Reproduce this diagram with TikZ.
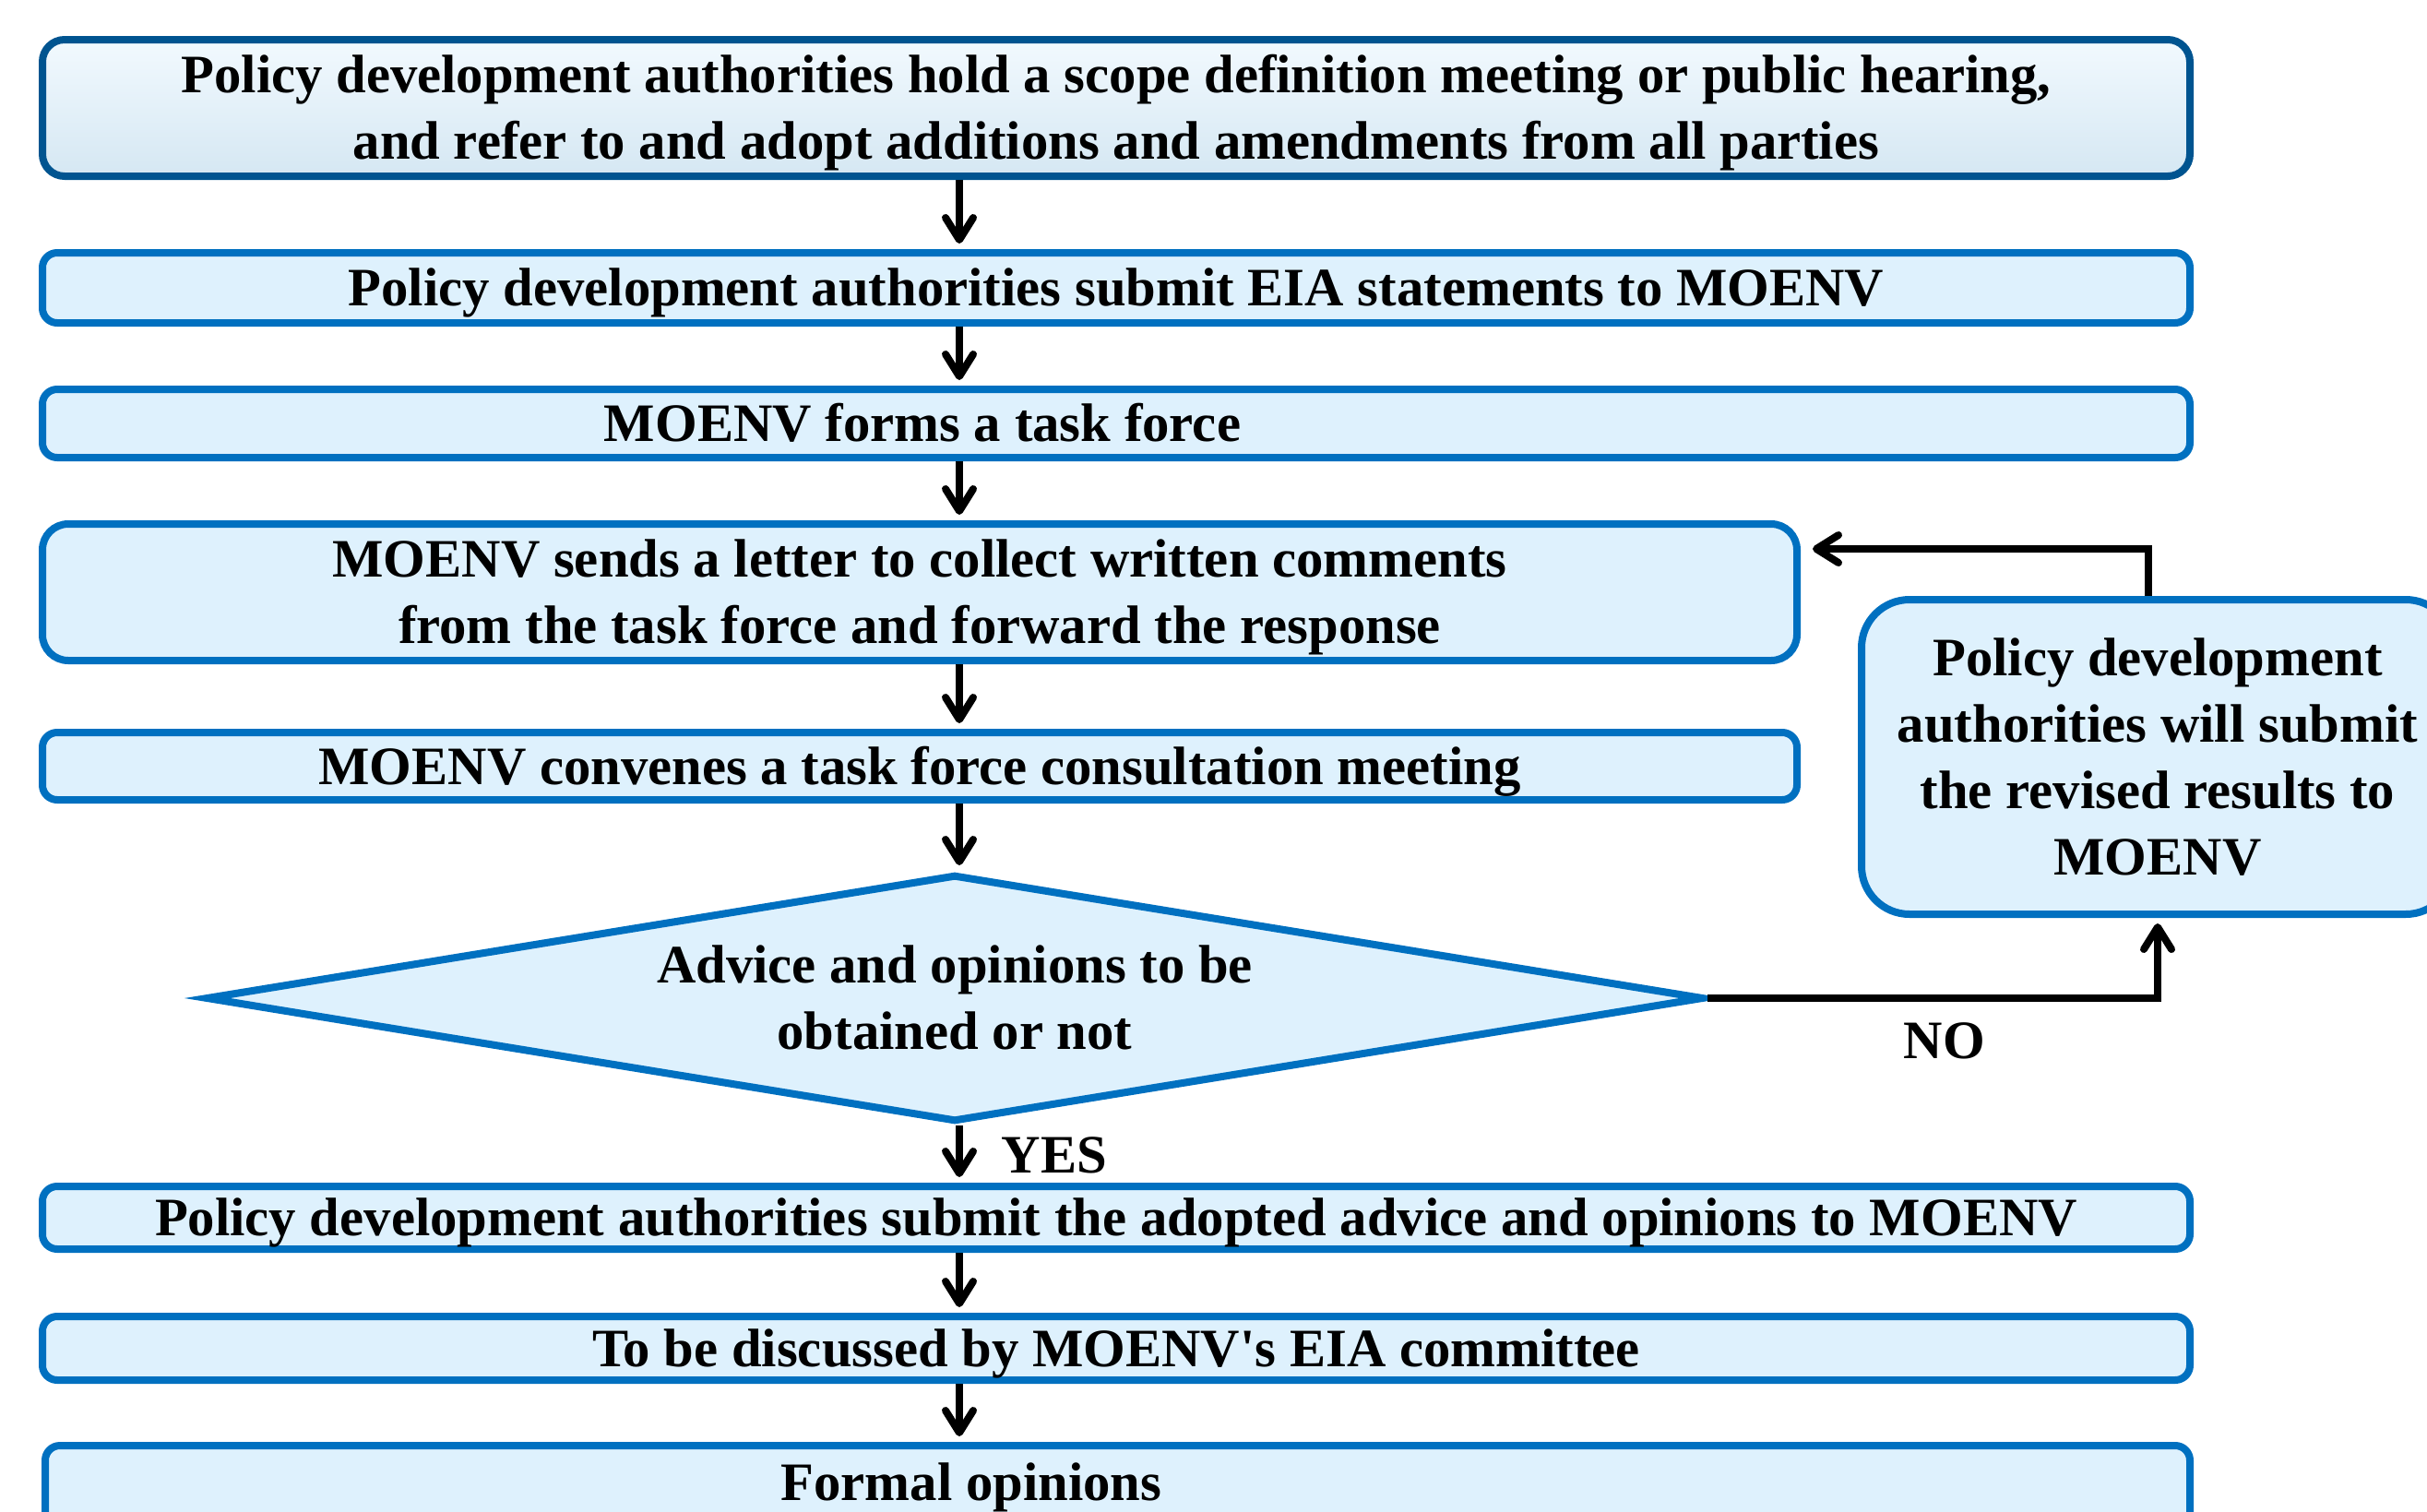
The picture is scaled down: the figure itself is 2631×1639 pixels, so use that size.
\documentclass[tikz,border=0pt]{standalone}
\usepackage{tikz}
\usepackage{xcolor}
\usepackage{fontspec}
\setmainfont{Liberation Serif}
\usetikzlibrary{shapes.geometric,arrows.meta,shadows}
\definecolor{boxfill}{RGB}{222,241,253}
\definecolor{boxline}{RGB}{0,112,192}
\newcommand{\linebox}{\rule[-0.216em]{0pt}{1.107em}}

\begin{document}
\begin{tikzpicture}[x=0.5pt,y=-0.5pt,
  stage/.style={draw=boxline,fill=boxfill,line width=4pt,rounded corners=8pt,inner sep=0pt,align=center,font=\bfseries\fontsize{29.35}{36}\selectfont,
    execute at begin node=\linebox,execute at end node=\linebox},
  flow/.style={line width=4pt,shorten >=3pt,-{Straight Barb[length=12pt,width=15pt,round]}},
  tag/.style={inner sep=0pt,align=center,font=\bfseries\fontsize{29.35}{36}\selectfont,
    execute at begin node=\linebox,execute at end node=\linebox}]
\useasboundingbox (0,0) rectangle (2631,1639);
\coordinate (ax) at (1040,0);

%Shape: Rounded Rectangle [scope meeting]
\node[stage,draw=boxline!75!black,top color=boxfill!40!white,middle color=boxfill,bottom color=boxfill!96!black,rounded corners=12pt,drop shadow={shadow xshift=1.5pt,shadow yshift=-1.5pt,opacity=0.3},minimum width=1164pt,minimum height=74pt] (scope) at (1210,117) {\linebox Policy development authorities hold a scope definition meeting or public hearing,\\and refer to and adopt additions and amendments from all parties};
%Shape: Rounded Rectangle [statements]
\node[stage,minimum width=1164pt,minimum height=38pt] (submit) at (1210,312) {Policy development authorities submit EIA statements to MOENV};
%Shape: Rounded Rectangle [task force]
\node[stage,minimum width=1164pt,minimum height=37pt] (taskforce) at (1210,459) {};
% Text Node
\node[tag] (taskforcetext) at (1000,459) {MOENV forms a task force};
%Shape: Rounded Rectangle [letter]
\node[stage,rounded corners=14pt,minimum width=951pt,minimum height=74pt] (letter) at (997,642) {\linebox MOENV sends a letter to collect written comments\\from the task force and forward the response};
%Shape: Rounded Rectangle [consultation]
\node[stage,minimum width=951pt,minimum height=36.5pt] (convene) at (997,830.5) {MOENV convenes a task force consultation meeting};
%Shape: Diamond [decision]
\node[stage,diamond,aspect=6,sharp corners,minimum width=812pt,minimum height=134pt] (advice) at (1035,1082) {\linebox Advice and opinions to be\\obtained or not};
%Shape: Rounded Rectangle [revised results]
\node[stage,rounded corners=26pt,minimum width=321pt,minimum height=170.5pt] (revise) at (2339,820.5) {\linebox Policy development\\authorities will submit\\the revised results to\\MOENV};
%Shape: Rounded Rectangle [adopted advice]
\node[stage,minimum width=1164pt,minimum height=34pt] (adopted) at (1210,1320) {Policy development authorities submit the adopted advice and opinions to MOENV};
%Shape: Rounded Rectangle [committee]
\node[stage,minimum width=1164pt,minimum height=34.5pt] (committee) at (1210,1461.5) {To be discussed by MOENV\textquotesingle s EIA committee};
%Shape: Rounded Rectangle [formal]
\node[stage,minimum width=1162.5pt,minimum height=60pt] (formal) at (1211.5,1627) {};
% Text Node
\node[tag] (formaltext) at (1053,1607) {Formal opinions};

%Straight Lines
\draw[flow] (scope.south -| ax) -- (submit.north -| ax);
\draw[flow] (submit.south -| ax) -- (taskforce.north -| ax);
\draw[flow] (taskforce.south -| ax) -- (letter.north -| ax);
\draw[flow] (letter.south -| ax) -- (convene.north -| ax);
\draw[flow] (convene.south -| ax) -- (advice.north -| ax);
\draw[flow] (advice.south -| ax) -- (adopted.north -| ax);
\draw[flow] (adopted.south -| ax) -- (committee.north -| ax);
\draw[flow] (committee.south -| ax) -- (formal.north -| ax);
%Elbow Lines
\coordinate (back) at (1965,595);
\draw[flow,shorten >=0pt] ([xshift=-5pt]revise.north) |- (back);
\draw[flow] (advice.east) -| (revise.south);

% Text Node
\node[tag] (yes) at (1143,1252) {YES};
% Text Node
\node[tag] (no) at (2108,1128) {NO};

\end{tikzpicture}
\end{document}
